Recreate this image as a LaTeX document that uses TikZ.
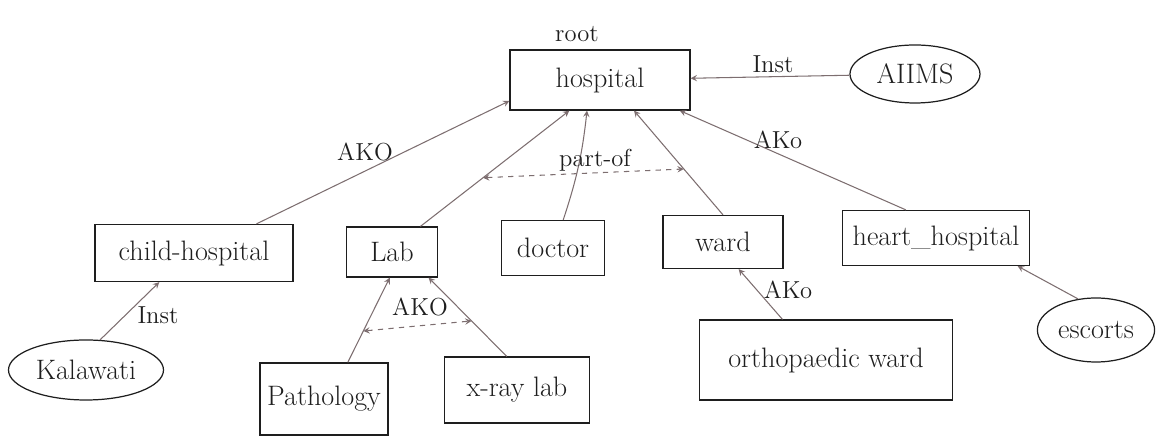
\documentclass[tikz,border=0pt]{standalone}
\usepackage{tikz}
\usetikzlibrary{shapes,arrows,positioning,calc}

\definecolor{pencil}{RGB}{125,110,112}
\definecolor{ink}{RGB}{30,30,30}

\begin{document}
\begin{tikzpicture}[
  concept/.style={draw=ink, line width=0.7pt, rectangle, inner sep=2pt, text=ink, font=\fontsize{16}{19}\selectfont},
  instance/.style={concept, ellipse},
  rel/.style={font=\fontsize{14}{17}\selectfont, text=ink, inner sep=1pt},
  link/.style={->, >=stealth, pencil, line width=0.6pt},
  among/.style={<->, >=stealth, dashed, pencil, line width=0.6pt}
]
\useasboundingbox (0,0) rectangle (23.14,8.78);

% Root
\node[concept, minimum width=3.6cm, minimum height=1.2cm] (hospital) at (12.00,7.18) {hospital};
\node[rel] (rootlbl) at (11.54,8.10) {root};
\node[instance, minimum width=2.6cm, minimum height=1.16cm] (aiims) at (18.30,7.30) {AIIMS};

% Level 1
\node[concept, minimum width=3.96cm, minimum height=1.14cm] (childh) at (3.88,3.72) {child-hospital};
\node[concept, minimum width=1.82cm, minimum height=1.0cm] (lab) at (7.84,3.74) {Lab};
\node[concept, minimum width=2.06cm, minimum height=1.1cm] (doctor) at (11.06,3.82) {doctor};
\node[concept, minimum width=2.4cm, minimum height=1.06cm] (ward) at (14.46,3.94) {ward};
\node[concept, minimum width=3.74cm, minimum height=1.1cm] (hearth) at (18.72,4.02) {heart\_hospital};

% Level 2
\node[instance, minimum width=3.1cm, minimum height=1.2cm] (kalawati) at (1.72,1.38) {Kalawati};
\node[concept, minimum width=2.56cm, minimum height=1.44cm] (patho) at (6.48,0.80) {Pathology};
\node[concept, minimum width=2.9cm, minimum height=1.32cm] (xray) at (10.34,0.98) {x-ray lab};
\node[concept, minimum width=5.06cm, minimum height=1.6cm] (ortho) at (16.52,1.58) {orthopaedic ward};
\node[instance, minimum width=2.14cm, minimum height=1.28cm] (escorts) at (21.92,2.18) {escorts};

% Links up to the root
\draw[link] (childh.25) -- (hospital.193);
\draw[link] (lab.42) -- (hospital.225);
\draw[link] (doctor.70) to[bend right=6] (hospital.247);
\draw[link] (ward.north) -- (hospital.318);
\draw[link] (hearth.137) -- (hospital.339);
\draw[link] (aiims) -- (hospital);

% Links to level 1
\draw[link] (kalawati.65) -- (childh.220);
\draw[link] (patho.57) -- (lab.265);
\draw[link] (xray.107) -- (lab.325);
\draw[link] (ortho.137) -- (ward.300);
\draw[link] (escorts.120) -- (hearth.341);

% Dashed relations between sibling links
\path (lab.42) -- (hospital.225) coordinate[pos=0.42] (pa);
\path (ward.north) -- (hospital.318) coordinate[pos=0.44] (pb);
\draw[among] (pa) -- (pb);
\path (patho.57) -- (lab.265) coordinate[pos=0.37] (pc);
\path (xray.107) -- (lab.325) coordinate[pos=0.45] (pd);
\draw[among] (pc) -- (pd);

% Relation labels
\node[rel] (instTop) at (15.46,7.50) {Inst};
\node[rel] (akoLeft) at (7.30,5.74) {AKO};
\node[rel] (akoRight) at (15.56,5.98) {AKo};
\node[rel] (partOf) at (11.90,5.58) {part-of};
\node[rel] (instLow) at (3.16,2.48) {Inst};
\node[rel] (akoLab) at (8.40,2.64) {AKO};
\node[rel] (akoWard) at (15.76,2.98) {AKo};
\end{tikzpicture}
\end{document}
